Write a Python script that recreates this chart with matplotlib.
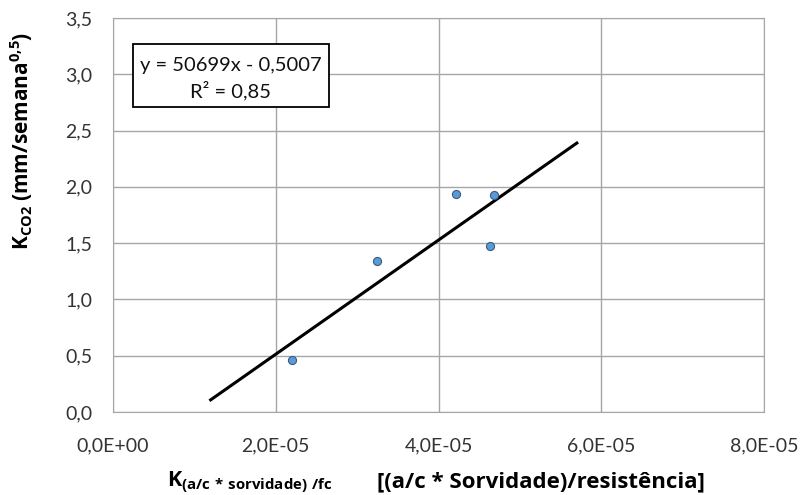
import matplotlib.pyplot as plt
from matplotlib.patches import Rectangle

plt.rcParams['font.family'] = ['Lato', 'DejaVu Sans']
plt.rcParams['mathtext.fontset'] = 'custom'
plt.rcParams['mathtext.rm'] = 'Open Sans'
plt.rcParams['mathtext.bf'] = 'Open Sans:bold'

# measured points
x_vals = [2.20e-5, 3.24e-5, 4.21e-5, 4.68e-5, 4.63e-5]
y_vals = [0.46, 1.345, 1.94, 1.93, 1.475]

# linear trendline from the equation
slope = 50699
intercept = -0.5007
trend_x = [1.2e-5, 5.7e-5]
trend_y = [slope * v + intercept for v in trend_x]

x_ticks = [0, 2e-5, 4e-5, 6e-5, 8e-5]
x_tick_labels = ["0,0E+00", "2,0E-05", "4,0E-05", "6,0E-05", "8,0E-05"]
y_ticks = [0, 0.5, 1.0, 1.5, 2.0, 2.5, 3.0, 3.5]
y_tick_labels = ["0,0", "0,5", "1,0", "1,5", "2,0", "2,5", "3,0", "3,5"]

fig = plt.figure(figsize=(8.02, 4.95), dpi=100)
ax = fig.add_axes([113 / 802, 1 - 412 / 495, (764 - 113) / 802, (412 - 18) / 495])

ax.set_xlim(0, 8e-5)
ax.set_ylim(0, 3.5)
ax.set_xticks(x_ticks)
ax.set_xticklabels(x_tick_labels)
ax.set_yticks(y_ticks)
ax.set_yticklabels(y_tick_labels)
ax.tick_params(length=0, labelsize=14, colors="#333333")
ax.tick_params(axis="y", pad=15)
ax.tick_params(axis="x", pad=18)
ax.grid(True, color="#a6a6a6", linewidth=1)
ax.set_axisbelow(True)
for s in ax.spines.values():
    s.set_color("#a6a6a6")

ax.plot(trend_x, trend_y, color="black", linewidth=2.2, zorder=2)
ax.scatter(x_vals, y_vals, s=34, color="#5b9bd5", edgecolor="#3a5a80", linewidth=0.8, zorder=3)

bold = dict(family=['Open Sans', 'DejaVu Sans'], fontweight="bold", color="black")
fig.text(22 / 802, 1 - 141 / 495, "K$_\\mathbf{CO2}$ (mm/semana$^{\\mathbf{0{,}5}}$)", fontsize=15,
         rotation=90, ha="center", va="center", **bold)

fig.text(167 / 802, 1 - 486 / 495, "K$_{\\mathbf{(a/c\\ {*}\\ sorvidade)\\ /fc}}$", fontsize=15.5,
         ha="left", va="baseline", **bold)
fig.text(377 / 802, 1 - 487 / 495, "[(a/c * Sorvidade)/resistência]", fontsize=16,
         ha="left", va="baseline", **bold)

# equation box
fig.patches.append(Rectangle((133 / 802, 1 - 107 / 495), (329 - 133) / 802, (107 - 44) / 495,
                             transform=fig.transFigure, facecolor="white", edgecolor="black",
                             linewidth=1.3, zorder=5))
fig.text(231 / 802, 1 - 65 / 495, "y = 50699x - 0,5007", fontsize=14.5, ha="center", va="center",
         color="#111111", zorder=6)
fig.text(231 / 802, 1 - 91 / 495, "R² = 0,85", fontsize=14.5, ha="center", va="center",
         color="#111111", zorder=6)

fig.savefig("out.png", dpi=100)
